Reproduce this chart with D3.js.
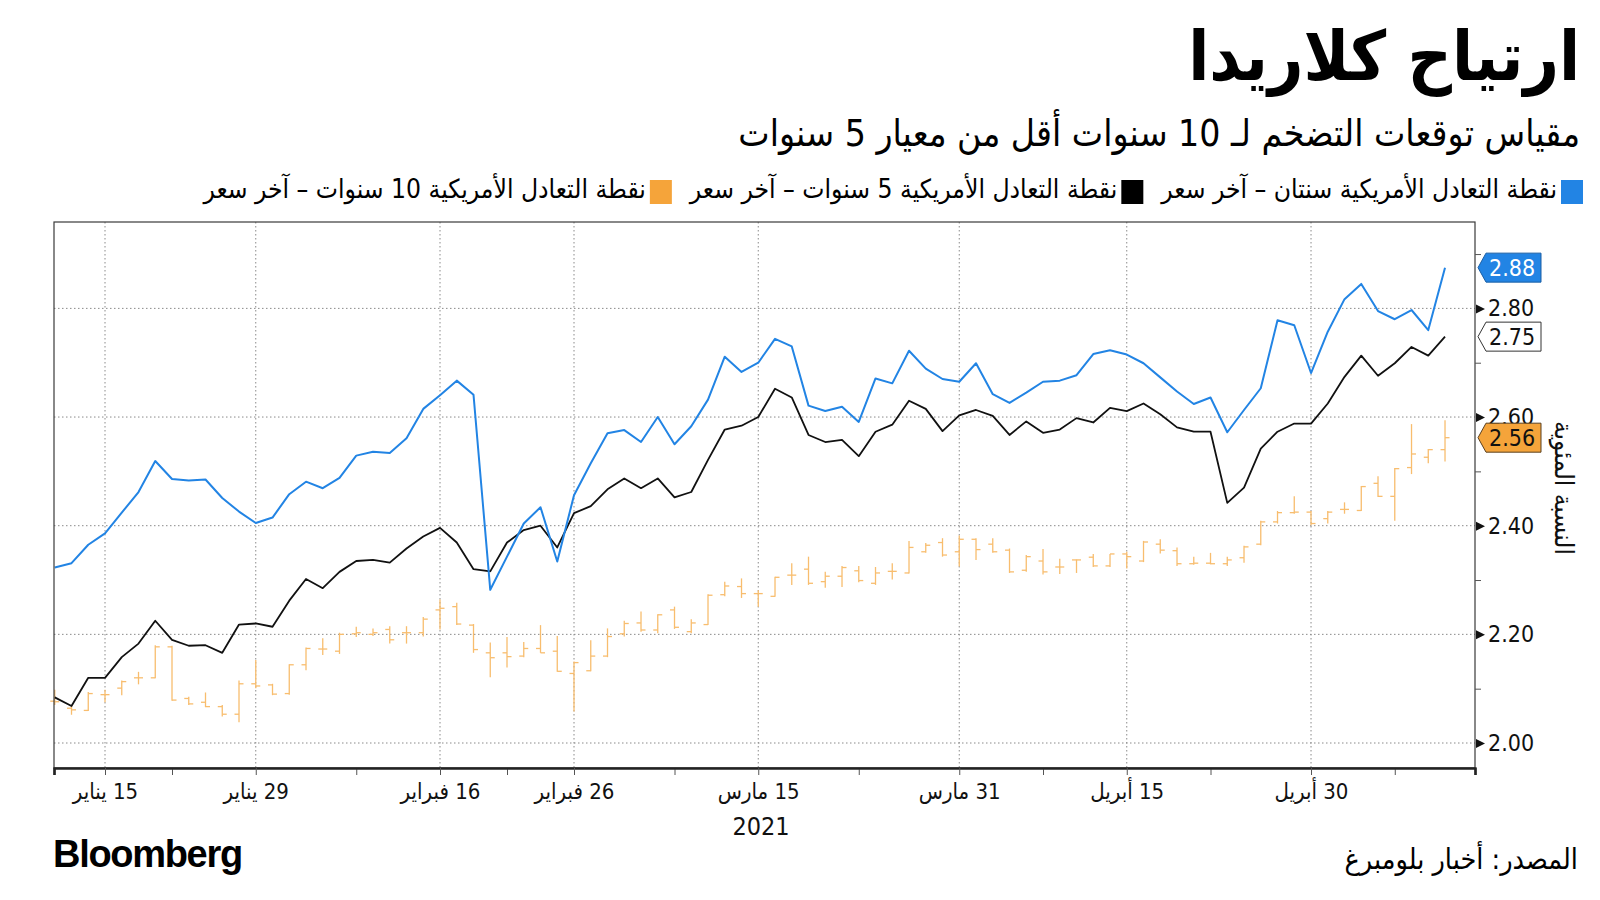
<!DOCTYPE html>
<html><head><meta charset="utf-8">
<script src="https://cdn.jsdelivr.net/npm/d3@7"></script>
<style>
body{margin:0;background:#fff;}
svg{display:block;}
.ar{font-family:"DejaVu Sans Condensed","DejaVu Sans",sans-serif;font-stretch:condensed;}
</style></head><body>
<svg id="chart" width="1600" height="900"></svg>
<script>
// ---------- DATA ----------
const dates = ["2021-01-12","2021-01-13","2021-01-14","2021-01-15","2021-01-19","2021-01-20","2021-01-21","2021-01-22","2021-01-25","2021-01-26","2021-01-27","2021-01-28","2021-01-29",
"2021-02-01","2021-02-02","2021-02-03","2021-02-04","2021-02-05","2021-02-08","2021-02-09","2021-02-10","2021-02-11","2021-02-12","2021-02-16","2021-02-17","2021-02-18","2021-02-19","2021-02-22","2021-02-23","2021-02-24","2021-02-25","2021-02-26",
"2021-03-01","2021-03-02","2021-03-03","2021-03-04","2021-03-05","2021-03-08","2021-03-09","2021-03-10","2021-03-11","2021-03-12","2021-03-15","2021-03-16","2021-03-17","2021-03-18","2021-03-19","2021-03-22","2021-03-23","2021-03-24","2021-03-25","2021-03-26","2021-03-29","2021-03-30","2021-03-31",
"2021-04-01","2021-04-05","2021-04-06","2021-04-07","2021-04-08","2021-04-09","2021-04-12","2021-04-13","2021-04-14","2021-04-15","2021-04-16","2021-04-19","2021-04-20","2021-04-21","2021-04-22","2021-04-23","2021-04-26","2021-04-27","2021-04-28","2021-04-29","2021-04-30",
"2021-05-03","2021-05-04","2021-05-05","2021-05-06","2021-05-07","2021-05-10","2021-05-11","2021-05-12"];

// US 2-year breakeven
const blueSeries = [2.323,2.331,2.365,2.386,2.424,2.462,2.519,2.486,2.483,2.485,2.451,2.426,2.405,
2.415,2.458,2.481,2.469,2.488,2.529,2.536,2.534,2.561,2.615,2.640,2.667,2.641,2.282,2.343,2.404,2.434,2.334,2.456,
2.515,2.570,2.576,2.554,2.600,2.550,2.583,2.632,2.711,2.683,2.700,2.744,2.730,2.621,2.611,2.619,2.591,2.671,2.662,2.722,2.689,2.670,2.665,
2.699,2.642,2.626,2.645,2.665,2.667,2.677,2.716,2.723,2.715,2.699,2.673,2.647,2.624,2.636,2.572,2.613,2.653,2.778,2.769,2.681,
2.757,2.817,2.845,2.795,2.780,2.797,2.760,2.875];

// US 5-year breakeven
const blackSeries = [2.084,2.068,2.120,2.120,2.158,2.183,2.225,2.190,2.179,2.180,2.166,2.218,2.220,
2.214,2.262,2.302,2.285,2.315,2.335,2.337,2.332,2.358,2.380,2.396,2.369,2.320,2.316,2.369,2.392,2.400,2.360,2.423,
2.436,2.467,2.487,2.469,2.487,2.452,2.462,2.521,2.577,2.584,2.600,2.652,2.636,2.567,2.554,2.558,2.528,2.573,2.586,2.630,2.615,2.574,2.603,
2.613,2.602,2.567,2.592,2.571,2.577,2.598,2.590,2.617,2.611,2.625,2.605,2.581,2.573,2.573,2.442,2.470,2.542,2.573,2.588,2.588,
2.625,2.674,2.713,2.676,2.699,2.729,2.713,2.748];

// US 10-year breakeven (OHLC)
const tenOpen = [2.077,2.064,2.060,2.089,2.101,2.120,2.120,2.177,2.082,2.075,2.067,2.053,2.109,
2.107,2.091,2.144,2.173,2.169,2.201,2.200,2.209,2.203,2.203,2.245,2.251,2.217,2.166,2.166,2.160,2.174,2.169,2.128,
2.133,2.160,2.201,2.221,2.208,2.245,2.205,2.218,2.273,2.288,2.275,2.270,2.309,2.320,2.297,2.307,2.317,2.294,2.316,2.313,2.352,2.369,2.352,
2.375,2.366,2.355,2.318,2.335,2.324,2.337,2.342,2.326,2.348,2.335,2.366,2.354,2.330,2.331,2.330,2.341,2.366,2.407,2.424,2.425,
2.413,2.430,2.428,2.478,2.454,2.507,2.526,2.540];
const tenHigh = [2.098,2.070,2.094,2.098,2.115,2.131,2.180,2.179,2.085,2.093,2.070,2.115,2.153,
2.109,2.145,2.176,2.193,2.203,2.214,2.211,2.215,2.215,2.232,2.264,2.258,2.219,2.185,2.195,2.186,2.217,2.197,2.150,
2.189,2.211,2.225,2.242,2.237,2.251,2.228,2.274,2.297,2.303,2.281,2.306,2.331,2.343,2.315,2.326,2.326,2.324,2.331,2.372,2.368,2.377,2.382,
2.377,2.377,2.358,2.346,2.357,2.339,2.338,2.348,2.348,2.352,2.372,2.375,2.360,2.343,2.350,2.343,2.363,2.409,2.427,2.454,2.427,
2.427,2.443,2.473,2.491,2.506,2.587,2.541,2.594];
const tenLow = [2.070,2.052,2.059,2.075,2.088,2.108,2.119,2.078,2.070,2.066,2.049,2.038,2.101,
2.088,2.089,2.134,2.162,2.164,2.195,2.197,2.183,2.183,2.196,2.209,2.217,2.166,2.121,2.139,2.158,2.166,2.131,2.058,
2.132,2.158,2.196,2.205,2.202,2.210,2.202,2.217,2.270,2.267,2.251,2.269,2.291,2.291,2.286,2.287,2.296,2.291,2.301,2.312,2.350,2.343,2.325,
2.337,2.350,2.313,2.315,2.310,2.311,2.313,2.324,2.324,2.321,2.333,2.349,2.326,2.328,2.329,2.326,2.332,2.364,2.404,2.422,2.401,
2.404,2.422,2.427,2.453,2.409,2.495,2.515,2.518];
const tenClose = [2.076,2.061,2.091,2.089,2.113,2.120,2.177,2.079,2.072,2.067,2.053,2.109,2.105,
2.090,2.144,2.174,2.173,2.200,2.203,2.203,2.190,2.203,2.228,2.248,2.219,2.172,2.157,2.159,2.174,2.166,2.132,2.148,
2.160,2.196,2.220,2.208,2.236,2.213,2.221,2.272,2.289,2.275,2.275,2.305,2.309,2.294,2.307,2.323,2.299,2.313,2.316,2.360,2.364,2.346,2.375,
2.356,2.352,2.315,2.343,2.315,2.324,2.337,2.326,2.348,2.343,2.370,2.355,2.330,2.331,2.330,2.337,2.361,2.407,2.424,2.425,2.404,
2.425,2.430,2.472,2.454,2.505,2.532,2.540,2.562];

const xMajorTicks = [3,12,23,31,42,54,64,75];
const xMajorLabels = ["15 يناير","29 يناير","16 فبراير","26 فبراير","15 مارس","31 مارس","15 أبريل","30 أبريل"];
const xMinorTicks = [7,18,27,37,48,59,69,80];
const yMajorTicks = [2.0,2.2,2.4,2.6,2.8];
const yMinorTicks = [2.1,2.3,2.5,2.7,2.9];

const title = "ارتياح كلاريدا";
const subtitle = "مقياس توقعات التضخم لـ 10 سنوات أقل من معيار 5 سنوات";
const legendLabels = ["نقطة التعادل الأمريكية سنتان – آخر سعر","نقطة التعادل الأمريكية 5 سنوات – آخر سعر","نقطة التعادل الأمريكية 10 سنوات – آخر سعر"];
const yAxisTitle = "النسبة المئوية";
const yearLabel = "2021";
const sourceLabel = "المصدر: أخبار بلومبرغ";
const brand = "Bloomberg";

// ---------- STYLE ----------
const C = {blue:"#2284e4", black:"#111111", orange:"#f5a43a", orangeBar:"#f8bd6e", grid:"#8a8a8a", axis:"#3a3a3a"};
const AR = '"DejaVu Sans Condensed","DejaVu Sans",sans-serif';

const svg = d3.select("#chart");
const P = {left:54, right:1475, top:222, bottom:768};

const x = d3.scaleLinear().domain([-0.045, 84.79]).range([P.left, P.right]);
const y = d3.scaleLinear().domain([1.954, 2.959]).range([P.bottom, P.top]);

// right-aligned RTL text helper
function rtlText(g, str, right, baseline, size, weight, fill){
  const t = g.append("text").attr("class","ar").attr("direction","rtl")
    .attr("text-anchor","middle").attr("y",baseline)
    .style("font-size",size+"px").style("font-weight",weight||"normal")
    .attr("fill",fill||"#000").text(str);
  const w = t.node().getComputedTextLength();
  t.attr("x", right - w/2);
  return w;
}

// ---------- TITLES ----------
rtlText(svg, title, 1580, 80, 68.5, "bold");
rtlText(svg, subtitle, 1580, 146, 37, "normal");

// ---------- LEGEND ----------
const legendColors = [C.blue, "#000", C.orange];
let lr = 1583;
legendLabels.forEach((lab,k)=>{
  svg.append("rect").attr("x",lr-22).attr("y",180).attr("width",22).attr("height",24).attr("fill",legendColors[k]);
  const w = rtlText(svg, lab, lr-26, 198, 26.2, "normal");
  lr = lr - 26 - w - 18;
});

// ---------- GRID ----------
const grid = svg.append("g");
grid.selectAll("line.h").data(yMajorTicks).join("line")
  .attr("x1",P.left).attr("x2",P.right).attr("y1",d=>y(d)).attr("y2",d=>y(d))
  .attr("stroke",C.grid).attr("stroke-width",1).attr("stroke-dasharray","1.5,2.5");
grid.selectAll("line.v").data(xMajorTicks).join("line")
  .attr("y1",P.top).attr("y2",P.bottom).attr("x1",d=>x(d)).attr("x2",d=>x(d))
  .attr("stroke",C.grid).attr("stroke-width",1).attr("stroke-dasharray","1.5,2.5");

// ---------- OHLC bars ----------
const ohlc = svg.append("g").attr("stroke",C.orangeBar).attr("stroke-width",1.3).attr("fill","none");
dates.forEach((d,i)=>{
  const cx = x(i);
  ohlc.append("line").attr("x1",cx).attr("x2",cx).attr("y1",y(tenHigh[i])).attr("y2",y(tenLow[i]));
  ohlc.append("line").attr("x1",cx-4.5).attr("x2",cx).attr("y1",y(tenOpen[i])).attr("y2",y(tenOpen[i]));
  ohlc.append("line").attr("x1",cx).attr("x2",cx+4.5).attr("y1",y(tenClose[i])).attr("y2",y(tenClose[i]));
});

// ---------- LINES ----------
const line = d3.line().x((d,i)=>x(i)).y(d=>y(d));
svg.append("path").datum(blackSeries).attr("d",line).attr("fill","none").attr("stroke",C.black).attr("stroke-width",1.8).attr("stroke-linejoin","round");
svg.append("path").datum(blueSeries).attr("d",line).attr("fill","none").attr("stroke",C.blue).attr("stroke-width",2).attr("stroke-linejoin","round");

// ---------- FRAME ----------
svg.append("rect").attr("x",P.left).attr("y",P.top).attr("width",P.right-P.left).attr("height",P.bottom-P.top)
  .attr("fill","none").attr("stroke",C.axis).attr("stroke-width",1.2);

// ---------- X AXIS ----------
const xAxisMinor = d3.axisBottom(x).tickValues(xMinorTicks).tickSize(7).tickFormat("");
const gxm = svg.append("g").attr("transform",`translate(0,${P.bottom})`).call(xAxisMinor);
const xAxis = d3.axisBottom(x).tickValues(xMajorTicks).tickSize(7).tickPadding(8)
  .tickFormat((d,k)=>xMajorLabels[k]);
const gx = svg.append("g").attr("transform",`translate(0,${P.bottom})`).call(xAxis);
[gx,gxm].forEach(g=>{
  g.select(".domain").attr("stroke","#222").attr("stroke-width",2.2);
  g.selectAll(".tick line").attr("stroke","#555").attr("stroke-width",1);
});
gx.selectAll(".tick text").attr("class","ar").attr("direction","rtl")
  .style("font-family",AR).style("font-size","22px").attr("fill","#111");

svg.append("text").attr("class","ar").attr("x",761).attr("y",835).attr("text-anchor","middle")
  .style("font-size","25px").attr("fill","#111").text(yearLabel);

// ---------- Y AXIS ----------
const yAxisMinor = d3.axisRight(y).tickValues(yMinorTicks).tickSize(6).tickFormat("");
const gym = svg.append("g").attr("transform",`translate(${P.right},0)`).call(yAxisMinor);
gym.select(".domain").remove();
gym.selectAll(".tick line").attr("stroke","#555");
const yAxis = d3.axisRight(y).tickValues(yMajorTicks).tickSize(0).tickPadding(13).tickFormat(d3.format(".2f"));
const gy = svg.append("g").attr("transform",`translate(${P.right},0)`).call(yAxis);
gy.select(".domain").remove();
gy.selectAll(".tick text").style("font-family",AR).style("font-size","23px").attr("fill","#111");
gy.selectAll(".tick").append("path").attr("d","M1,-4.5L10,0L1,4.5Z").attr("fill","#111");

// y-axis title (rotated)
svg.append("text").attr("class","ar").attr("direction","rtl").attr("text-anchor","middle")
  .attr("transform","translate(1555,488) rotate(90)")
  .style("font-size","26px").attr("fill","#111").text(yAxisTitle);

// ---------- LAST VALUE LABELS ----------
const lastIdx = dates.length-1;
const lastLabels = [
  {v: blueSeries[lastIdx], fill:C.blue, stroke:"#1b5fa5", text:"#fff"},
  {v: blackSeries[lastIdx], fill:"#fff", stroke:"#333", text:"#111"},
  {v: tenClose[lastIdx], fill:C.orange, stroke:"#5a4020", text:"#111"}
];
lastLabels.forEach(l=>{
  const cy = y(l.v);
  const g = svg.append("g").attr("transform",`translate(${P.right+3},${cy})`);
  g.append("path").attr("d","M0,0L8,-14.5L63,-14.5L63,14.5L8,14.5Z")
    .attr("fill",l.fill).attr("stroke",l.stroke).attr("stroke-width",1);
  g.append("text").attr("x",11).attr("y",0).attr("dy","0.36em")
    .style("font-family",AR).style("font-size","23px").attr("fill",l.text)
    .text(d3.format(".2f")(l.v));
});

// ---------- FOOTER ----------
svg.append("text").attr("x",53).attr("y",867)
  .style("font-family",'"Liberation Sans",Arial,sans-serif').style("font-weight","bold")
  .style("font-size","38px").style("letter-spacing","-1.3px").attr("fill","#000").text(brand);
rtlText(svg, sourceLabel, 1578, 869, 28.5, "normal");
</script>
</body></html>
